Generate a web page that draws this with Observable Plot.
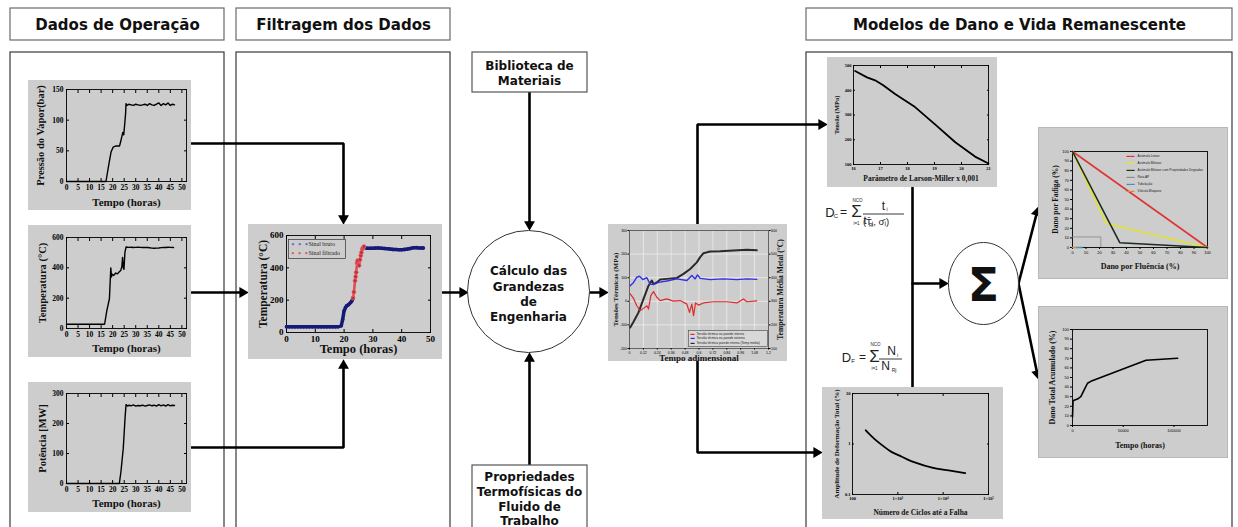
<!DOCTYPE html>
<html><head><meta charset="utf-8">
<script src="https://cdn.jsdelivr.net/npm/d3@7"></script>
<script src="https://cdn.jsdelivr.net/npm/@observablehq/plot@0.6"></script>
<style>
body{margin:0;background:#fff;}
#stage{position:relative;width:1238px;height:527px;overflow:hidden;background:#fff;}
#stage > svg{position:absolute;}
</style></head><body><div id="stage"></div>
<script>
// ================= DATA =================
// Dados de operação (tempo em horas)
const hoursTicks = [0,5,10,15,20,25,30,35,40,45,50];
const pressureTicks = [0,50,100,150];
const temperatureTicks = [0,200,400,600];
const powerTicks = [0,100,200,300];
const pressureSeries = [[0,0],[17.1,0],[18.4,29],[19.3,48],[20.2,56],[21.5,58],[23.0,58],[23.4,64],[23.9,72],[24.4,80],[24.8,76],[25.3,97],[25.6,110],[25.8,127],[26.2,124],[27,126],[28,125],[29,124],[30,126],[31,125],[32,124],[33,125],[34,126],[35,124],[36,127],[37,125],[38,124],[39,126],[40,128],[41,124],[42,127],[43,125],[44,128],[45,124],[46,126],[46.8,125]];
const temperatureSeries = [[0,28],[16.5,28],[17.5,120],[18.6,196],[19.2,400],[19.5,340],[19.8,358],[20.5,350],[21.3,366],[22.0,360],[22.8,372],[23.5,382],[24.0,410],[24.3,469],[24.6,400],[24.9,390],[25.3,500],[25.8,537],[27,535],[28,536],[29,534],[30,535],[31,536],[32,535],[33,534],[34,535],[35,534],[36,532],[37,530],[38,529],[39,530],[40,531],[41,533],[42,535],[43,534],[44,536],[45,535],[46.4,534]];
const powerSeries = [[0,0],[22.9,0],[23.6,40],[24.3,94],[24.6,117],[25.0,170],[25.4,222],[25.8,263],[26.5,258],[27,261],[28,259],[29,262],[30,258],[31,260],[32,259],[33,261],[34,258],[35,260],[36,262],[37,259],[38,261],[39,258],[40,263],[41,259],[42,262],[43,258],[44,263],[45,259],[46,261],[46.8,260]];

// Filtragem
const filterTicksX = [0,10,20,30,40,50];
const rawBefore = [[0,35],[1,35],[2,35],[3,35],[4,35],[5,35],[6,35],[7,35],[8,35],[9,35],[10,35],[11,35],[12,35],[13,35],[14,35],[15,35],[16,35],[17,35],[18,36],[19,41],[19.5,80],[20,134],[20.5,155],[20.9,165],[21.5,172],[22.3,186],[22.8,198],[23.1,213]];
const filteredSignal = [[23.1,213],[23.4,250],[23.8,320],[24.0,345],[24.2,372],[24.5,430],[24.7,445],[25.0,420],[25.2,414],[25.5,450],[25.8,476],[26.0,495],[26.3,517],[26.6,525],[26.9,532]];
const rawAfter = [[26.9,525],[28,521],[29,521],[30,521],[31,522],[32,522],[33,521],[34,520],[35,518],[36,516],[37,514],[38,513],[39,512],[40,512],[41,514],[42,516],[43,520],[44,524],[45,525],[46,523],[47,523],[47.5,523]];
const filterLegend = ["Sinal bruto","Sinal filtrado"];

// Grandezas de engenharia
const adimTicks = [0,0.12,0.24,0.36,0.48,0.6,0.72,0.84,0.96,1.08,1.2];
const stressTicks = [-200,-100,0,100,200,300];
const metalTempTicks = [100,200,300,400,500,600];
const metalTempOffset = 300; // right axis (°C) = left axis (MPa) + 300
const metalTemp = [[0.006,189],[0.035,213],[0.078,253],[0.121,310],[0.164,366],[0.193,388],[0.207,373],[0.236,380],[0.265,392],[0.322,395],[0.409,399],[0.466,416],[0.524,437],[0.581,465],[0.61,487],[0.639,504],[0.696,511],[0.783,512],[0.898,515],[1.013,518],[1.099,516]];
const stressOuter = [[0.006,66],[0.035,80],[0.063,102],[0.086,106],[0.115,92],[0.15,100],[0.178,73],[0.207,71],[0.25,80],[0.322,86],[0.409,95],[0.495,88],[0.538,109],[0.567,95],[0.587,112],[0.61,97],[0.696,92],[0.81,95],[0.927,92],[1.013,95],[1.099,93]];
const stressInner = [[0.006,31],[0.035,12],[0.063,-19],[0.092,-40],[0.121,-30],[0.15,-19],[0.164,-33],[0.184,24],[0.207,41],[0.236,17],[0.265,3],[0.322,10],[0.38,1],[0.437,3],[0.495,-12],[0.518,-47],[0.538,-12],[0.553,-61],[0.57,-7],[0.596,-16],[0.639,-7],[0.725,-2],[0.84,-2],[0.927,-7],[0.984,10],[1.013,-2],[1.099,2]];
const stressLegend = ["Tensão térmica na parede interna","Tensão térmica na parede externa","Tensão térmica parede interna (Temp média)"];

// Larson-Miller
const lmTicksX = [16,17,18,19,20,21];
const lmTicksY = [100,200,300,400,500];
const larsonMiller = [[16.06,478],[16.5,452],[16.8,440],[17.1,420],[17.54,385],[18.28,332],[19.02,262],[19.77,190],[20.5,132],[21.0,104]];

// Curva de fadiga
const cyclesTicks = [100,1000,10000,100000];
const cyclesLabels = ["100","1×10³","1×10⁴","1×10⁵"];
const strainTicks = [0.1,1,10];
const strainLife = [[196,1.87],[299,1.28],[455,0.94],[693,0.715],[1057,0.596],[1610,0.496],[2455,0.426],[5700,0.339],[13200,0.30],[30700,0.265]];

// Diagrama de interação fluência-fadiga
const pctTicks = [0,10,20,30,40,50,60,70,80,90,100];
const damageLinear = [[0,100],[100,0]];
const damageBilinear = [[0,100],[25,25],[100,0]];
const damageDegraded = [[0,100],[35,5],[100,0]];
const rotaAP = [[0,11],[21,11],[21,0]];
const tubulacao = [[2.5,0],[7,0]];
const valvula = [[0,0],[2.5,0]];
const damageLegend = ["Acúmulo Linear","Acúmulo Bilinear","Acúmulo Bilinear com Propriedades Degradas","Rota AP","Tubulação","Válvula Bloqueio"];
const damageColors = ["#e03434","#e4e42a","#1d2b1d","#8a8a8a","#3d92b4","#d2874e"];

// Dano acumulado
const longHoursTicks = [0,50000,100000];
const accumulated = [[0,9],[500,25],[1000,26],[4900,27.5],[8200,30],[11500,37],[14800,44],[18100,46],[72400,68],[103600,70]];

// ================= DIAGRAM LAYOUT =================
const headers = [
  {label:"Dados de Operação", x1:10, y1:8, x2:224, y2:40},
  {label:"Filtragem dos Dados", x1:236, y1:8, x2:450, y2:40},
  {label:"Modelos de Dano e Vida Remanescente", x1:806, y1:8, x2:1232, y2:40}
];
const columns = [
  {x1:10, y1:52, x2:224, y2:560},
  {x1:236, y1:52, x2:450, y2:560},
  {x1:806, y1:52, x2:1232, y2:560}
];
const infoBoxes = [
  {x1:472, y1:52, x2:587, y2:92},
  {x1:472, y1:465, x2:587, y2:560}
];
const boldLabels = [
  {x:529, y:66, text:"Biblioteca de", size:12},
  {x:529, y:81, text:"Materiais", size:12},
  {x:529, y:477, text:"Propriedades", size:12},
  {x:529, y:492, text:"Termofísicas do", size:12},
  {x:529, y:507, text:"Fluido de", size:12},
  {x:529, y:521, text:"Trabalho", size:12},
  {x:528, y:271, text:"Cálculo das", size:12},
  {x:528, y:287, text:"Grandezas", size:12},
  {x:528, y:302, text:"de", size:12},
  {x:528, y:317, text:"Engenharia", size:12},
  {x:983, y:286, text:"Σ", size:46}
];
const formulaLabels = [
  {x:829.5, y:212, text:"D", size:13, anchor:"middle"},
  {x:835.5, y:216, text:"C", size:6, anchor:"middle"},
  {x:843, y:212, text:"=", size:12, anchor:"middle"},
  {x:856, y:211, text:"Σ", size:17, anchor:"middle"},
  {x:857, y:200, text:"NCO", size:4.5, anchor:"middle"},
  {x:856, y:223, text:"i=1", size:4.5, anchor:"middle"},
  {x:883, y:206, text:"t", size:12, anchor:"middle"},
  {x:886.5, y:209, text:"i", size:5, anchor:"middle"},
  {x:864.5, y:220, text:"t", size:11, anchor:"middle"},
  {x:870.5, y:225.5, text:"Ri", size:4.5, anchor:"middle"},
  {x:875.5, y:221, text:"(T̄ᵢ, σ̄ᵢ)", size:9.5, anchor:"start"},
  {x:846, y:357, text:"D", size:13, anchor:"middle"},
  {x:852.5, y:361, text:"F", size:6, anchor:"middle"},
  {x:862, y:357, text:"=", size:12, anchor:"middle"},
  {x:874, y:356, text:"Σ", size:17, anchor:"middle"},
  {x:875, y:344, text:"NCO", size:4.5, anchor:"middle"},
  {x:874, y:368, text:"i=1", size:4.5, anchor:"middle"},
  {x:891, y:351, text:"N", size:12, anchor:"middle"},
  {x:897, y:354.5, text:"i", size:5, anchor:"middle"},
  {x:885, y:366, text:"N", size:12, anchor:"middle"},
  {x:893.5, y:369.5, text:"Rj", size:5, anchor:"middle"}
];
const fractionBars = [
  {x1:863, x2:904, y:213.5},
  {x1:879, x2:902, y:358.5}
];
const connectors = [
  {pts:[[191,143],[343,143],[343,224]], head:true},
  {pts:[[191,292],[248,292]], head:true},
  {pts:[[191,447],[343,447],[343,359]], head:true},
  {pts:[[442,292],[468,292]], head:true},
  {pts:[[529,92],[529,230]], head:true},
  {pts:[[529,465],[529,352]], head:true},
  {pts:[[588,292],[608,292]], head:true},
  {pts:[[697,224],[697,124],[827,124]], head:true},
  {pts:[[697,361],[697,452],[822,452]], head:true},
  {pts:[[912,187],[912,387]], head:false},
  {pts:[[912,283],[948,283]], head:true},
  {pts:[[1018,283],[1038,206]], head:true},
  {pts:[[1018,283],[1038,379]], head:true}
];
const calcNode = [{x:528, y:291}];
const sigmaNode = [{x:983, y:283}];

// ================= RENDER =================
const stage = document.getElementById("stage");
const W = 1238, H = 527;
const HEAD = 6;

const linePts = [], heads = [];
connectors.forEach((c, i) => {
  const p = c.pts.map(d => d.slice());
  if (c.head) {
    const [tx, ty] = p[p.length-1], [sx, sy] = p[p.length-2];
    const len = Math.hypot(tx-sx, ty-sy), ux = (tx-sx)/len, uy = (ty-sy)/len;
    heads.push({x: tx - HEAD*ux, y: ty - HEAD*uy, angle: Math.atan2(ux, -uy) * 180 / Math.PI});
    p[p.length-1] = [tx - 7*ux, ty - 7*uy];
  }
  p.forEach(q => linePts.push({id:i, x:q[0], y:q[1]}));
});

const ellipseSymbol = {draw(ctx) {
  const rx = 35, ry = 41, k = 0.5523;
  ctx.moveTo(rx, 0);
  ctx.bezierCurveTo(rx, ry*k, rx*k, ry, 0, ry);
  ctx.bezierCurveTo(-rx*k, ry, -rx, ry*k, -rx, 0);
  ctx.bezierCurveTo(-rx, -ry*k, -rx*k, -ry, 0, -ry);
  ctx.bezierCurveTo(rx*k, -ry, rx, -ry*k, rx, 0);
  ctx.closePath();
}};

const bg = Plot.plot({
  width: W, height: H, margin: 0,
  x: {domain: [0, W], range: [0, W], axis: null},
  y: {domain: [0, H], range: [0, H], axis: null},
  style: {background: "transparent", overflow: "visible"},
  marks: [
    Plot.rect(columns, {x1:"x1", x2:"x2", y1:"y1", y2:"y2", fill:"white", stroke:"#3a3a3a", strokeWidth:1.2}),
    Plot.rect(headers, {x1:"x1", x2:"x2", y1:"y1", y2:"y2", fill:"white", stroke:"#6a6a6a", strokeWidth:1.2}),
    Plot.text(headers, {x: d => (d.x1+d.x2)/2, y: d => (d.y1+d.y2)/2 + 1, text:"label", fontSize:15, fontWeight:"bold", fontFamily:"DejaVu Sans", fill:"#111"}),
    Plot.line(linePts, {x:"x", y:"y", z:"id", stroke:"black", strokeWidth:2.6, strokeLinejoin:"miter"}),
    Plot.dot(heads, {x:"x", y:"y", rotate:"angle", symbol:"triangle2", r:5.2, fill:"black", stroke:"none"}),
    Plot.rect(infoBoxes, {x1:"x1", x2:"x2", y1:"y1", y2:"y2", fill:"white", stroke:"#555", strokeWidth:1.2}),
    Plot.dot(calcNode, {x:"x", y:"y", r:61, fill:"white", stroke:"#333", strokeWidth:1}),
    Plot.dot(sigmaNode, {x:"x", y:"y", symbol: ellipseSymbol, r:30, fill:"white", stroke:"#333", strokeWidth:1}),
    Plot.text(boldLabels, {x:"x", y:"y", text:"text", fontSize: d => d.size, fontWeight:"bold", fontFamily:"DejaVu Sans", fill:"#111"}),
    Plot.text(formulaLabels, {x:"x", y:"y", text:"text", fontSize: d => d.size, textAnchor: d => d.anchor, fontFamily:"Liberation Sans", fill:"#222"}),
    Plot.ruleY(fractionBars, {x1:"x1", x2:"x2", y:"y", stroke:"#222", strokeWidth:0.9})
  ]
});
bg.style.left = "0px"; bg.style.top = "0px";
stage.appendChild(bg);

const GRAY = "#cdcdcd";
function addChart({left, top, width, height, ml, mr, mt, mb, x, y, marks, tickFont="Liberation Serif", tickSize=7, tickWeight="bold", border=null}) {
  const svg = Plot.plot({
    width, height, marginLeft: ml, marginRight: mr, marginTop: mt, marginBottom: mb, x, y,
    style: {background: GRAY, fontFamily: tickFont, fontSize: tickSize + "px", fontWeight: tickWeight, color: "black", overflow: "visible"},
    marks
  });
  svg.style.left = left + "px"; svg.style.top = top + "px";
  if (border) svg.style.outline = border;
  stage.appendChild(svg);
  return svg;
}
const serif = "Liberation Serif";
const xTitle = (t, dy, size) => Plot.text([t], {text: d => d, frameAnchor: "bottom", dy, fontSize: size, fontWeight: "bold", fontFamily: serif, fill:"#111", textAnchor:"middle", lineAnchor:"middle"});
const yTitle = (t, dx, size, anchor = "left") => Plot.text([t], {text: d => d, frameAnchor: anchor, dx, rotate: -90, fontSize: size, fontWeight: "bold", fontFamily: serif, fill:"#111", textAnchor:"middle", lineAnchor:"middle"});
const note = (t, anchor, dx, dy, size, fill, opts = {}) => Plot.text([t], {text: d => d, frameAnchor: anchor, dx, dy, fontSize: size, fill, textAnchor:"start", lineAnchor:"middle", ...opts});
function boxAxes(xt, yt, {xFmt = d => String(d), yFmt = d => String(d), ts = -3, pad = 6} = {}) {
  return [
    Plot.frame({stroke: "black", strokeWidth: 0.9}),
    Plot.axisX({ticks: xt, tickSize: ts, tickPadding: pad, label: null, tickFormat: xFmt}),
    Plot.axisX({anchor: "top", ticks: xt, tickSize: ts, label: null, tickFormat: () => ""}),
    Plot.axisY({ticks: yt, tickSize: ts, tickPadding: pad, label: null, tickFormat: yFmt}),
    Plot.axisY({anchor: "right", ticks: yt, tickSize: ts, label: null, tickFormat: () => ""})
  ];
}
const X = d => d[0], Y = d => d[1];

// --- Dados de operação ---
addChart({left:28, top:80, width:163, height:130, ml:38, mr:5, mt:9, mb:29,
  x:{domain:[0,52]}, y:{domain:[0,150]}, tickSize:7.5,
  marks:[...boxAxes(hoursTicks, pressureTicks),
    Plot.line(pressureSeries, {x:X, y:Y, stroke:"black", strokeWidth:1.4}),
    xTitle("Tempo (horas)", 21, 11), yTitle("Pressão do Vapor(bar)", -26, 10.5)]});
addChart({left:28, top:225, width:163, height:132, ml:38, mr:5, mt:12, mb:29,
  x:{domain:[0,52]}, y:{domain:[0,600]}, tickSize:7.5,
  marks:[...boxAxes(hoursTicks, temperatureTicks),
    Plot.line(temperatureSeries, {x:X, y:Y, stroke:"black", strokeWidth:1.4}),
    xTitle("Tempo (horas)", 20, 11), yTitle("Temperatura (°C)", -24, 10.5)]});
addChart({left:28, top:382, width:163, height:130, ml:38, mr:5, mt:11, mb:29,
  x:{domain:[0,52]}, y:{domain:[0,300]}, tickSize:7.5,
  marks:[...boxAxes(hoursTicks, powerTicks),
    Plot.line(powerSeries, {x:X, y:Y, stroke:"black", strokeWidth:1.4}),
    xTitle("Tempo (horas)", 20, 11), yTitle("Potência [MW]", -24, 10.5)]});

// --- Filtragem ---
const NAVY = "#151a78", PINK = "#e0484e";
addChart({left:248, top:224, width:194, height:135, ml:38, mr:12, mt:11, mb:27,
  x:{domain:[0,50]}, y:{domain:[0,600]}, tickSize:9,
  marks:[...boxAxes(filterTicksX, temperatureTicks),
    Plot.line(rawBefore, {x:X, y:Y, stroke:NAVY, strokeWidth:3.5}),
    Plot.line(rawAfter, {x:X, y:Y, stroke:NAVY, strokeWidth:3.5}),
    Plot.dot(rawBefore.concat(rawAfter), {x:X, y:Y, r:1.8, fill:NAVY}),
    Plot.line(filteredSignal, {x:X, y:Y, stroke:PINK, strokeWidth:2.5}),
    Plot.dot(filteredSignal, {x:X, y:Y, r:2, fill:"#c0303a", stroke:"#f07070", strokeWidth:0.6}),
    Plot.frame({insetLeft:2, insetTop:4, insetRight:85, insetBottom:74, stroke:"#333", strokeWidth:0.7}),
    note("•  •  •", "top-left", 5, 9, 8, "#6a6ad8"),
    note("•  •  •", "top-left", 5, 18, 8, "#e05a5a"),
    note(filterLegend[0], "top-left", 22, 8.5, 6, "#222", {fontWeight:"normal"}),
    note(filterLegend[1], "top-left", 22, 17.5, 6, "#222", {fontWeight:"normal"}),
    xTitle("Tempo (horas)", 16, 12.5), yTitle("Temperatura (°C)", -23, 11.5)]});

// --- Grandezas de engenharia (eixo duplo) ---
const toLeftAxis = T => T - metalTempOffset;
const stressColors = ["#e02a2a","#3030e8","#2a2a2a"];
addChart({left:608, top:224, width:179, height:137, ml:21, mr:19, mt:6, mb:13,
  x:{domain:[0,1.2]}, y:{domain:[-200,300]}, tickSize:3.5, tickFont:"Liberation Sans", tickWeight:"normal",
  marks:[
    Plot.gridX({ticks: adimTicks, stroke:"#ececec", strokeOpacity:1, strokeWidth:0.8}),
    Plot.gridY({ticks: stressTicks, stroke:"#ececec", strokeOpacity:1, strokeWidth:0.8}),
    Plot.frame({stroke:"#444", strokeWidth:0.8}),
    Plot.axisX({ticks: adimTicks, tickSize:1.5, tickPadding:1, label:null, tickFormat: d => String(d)}),
    Plot.axisY({ticks: stressTicks, tickSize:1.5, tickPadding:1, label:null, tickFormat: d => String(d)}),
    Plot.axisY({anchor:"right", ticks: metalTempTicks.map(toLeftAxis), tickSize:1.5, tickPadding:1, label:null, tickFormat: d => String(d + metalTempOffset)}),
    Plot.line(metalTemp, {x:X, y: d => toLeftAxis(d[1]), stroke:"#2a2a2a", strokeWidth:2}),
    Plot.line(stressOuter, {x:X, y:Y, stroke:"#3030e8", strokeWidth:1.4}),
    Plot.line(stressInner, {x:X, y:Y, stroke:"#e02a2a", strokeWidth:1.2}),
    Plot.frame({insetLeft:59, insetTop:100, insetRight:1, insetBottom:2, stroke:"#444", strokeWidth:0.6, fill:"#d8d8d8"}),
    ...stressLegend.map((t, i) => note("▬", "bottom-left", 61, [-15,-10.5,-6][i], 4, stressColors[i])),
    ...stressLegend.map((t, i) => note(t, "bottom-left", 67, [-15,-10.5,-6][i], 3.2, "#222")),
    xTitle("Tempo adimensional", 10, 9),
    yTitle("Tensões Térmicas (MPa)", -14, 7),
    yTitle("Temperatura Média Metal (°C)", 12, 7.5, "right")
  ]});

// --- Larson-Miller ---
addChart({left:827, top:57, width:170, height:130, ml:26, mr:9, mt:8, mb:23,
  x:{domain:[16,21]}, y:{domain:[100,500]}, tickSize:4.5,
  marks:[...boxAxes(lmTicksX, lmTicksY, {ts:-2, pad:4}),
    Plot.line(larsonMiller, {x:X, y:Y, stroke:"black", strokeWidth:1.8}),
    xTitle("Parâmetro de Larson-Miller x 0,001", 14, 7.5), yTitle("Tensão (MPa)", -17, 6.5)]});

// --- Curva deformação-vida ---
addChart({left:822, top:387, width:181, height:132, ml:30, mr:15, mt:6, mb:25,
  x:{type:"log", domain:[100,100000]}, y:{type:"log", domain:[0.1,10]}, tickSize:4.5,
  marks:[...boxAxes(cyclesTicks, strainTicks, {ts:-2, pad:4, xFmt: d => cyclesLabels[cyclesTicks.indexOf(d)]}),
    Plot.line(strainLife, {x:X, y:Y, stroke:"black", strokeWidth:1.8, curve:"monotone-x"}),
    xTitle("Número de Ciclos até a Falha", 18, 7.5), yTitle("Amplitude de Deformação Total (%)", -16, 7)]});

// --- Interação fluência-fadiga ---
function excelAxes(xt, yt, xFmt = d => String(d)) {
  return [
    Plot.frame({stroke:"black", strokeWidth:0.9}),
    Plot.axisX({ticks: xt, tickSize:2, tickPadding:1.5, label:null, tickFormat: xFmt}),
    Plot.axisY({ticks: yt, tickSize:2, tickPadding:1.5, label:null, tickFormat: d => String(d)})
  ];
}
addChart({left:1039, top:128, width:188, height:150, ml:33, mr:20, mt:23, mb:31,
  x:{domain:[0,100]}, y:{domain:[0,100]}, tickSize:4, tickFont:"Liberation Sans", tickWeight:"normal", border:"1px solid #b8b8b8",
  marks:[...excelAxes(pctTicks, pctTicks),
    Plot.line(rotaAP, {x:X, y:Y, stroke:damageColors[3], strokeWidth:0.9, strokeDasharray:"2,1"}),
    Plot.line(damageLinear, {x:X, y:Y, stroke:damageColors[0], strokeWidth:1.6}),
    Plot.line(damageBilinear, {x:X, y:Y, stroke:damageColors[1], strokeWidth:1.6}),
    Plot.line(damageDegraded, {x:X, y:Y, stroke:damageColors[2], strokeWidth:1.6}),
    Plot.line(tubulacao, {x:X, y:Y, stroke:damageColors[4], strokeWidth:1.6}),
    Plot.line(valvula, {x:X, y:Y, stroke:damageColors[5], strokeWidth:1.6}),
    ...damageLegend.map((t, i) => note("▬▬", "top-left", 54, 4 + i*7, 4, damageColors[i])),
    ...damageLegend.map((t, i) => note(t, "top-left", 65, 4 + i*7, 3.2, "#222")),
    xTitle("Dano por Fluência (%)", 19, 8), yTitle("Dano por Fadiga (%)", -17, 7.5)]});

// --- Dano acumulado ---
addChart({left:1039, top:307, width:188, height:150, ml:33, mr:20, mt:22, mb:32,
  x:{domain:[0,133000]}, y:{domain:[0,100]}, tickSize:4, tickFont:"Liberation Sans", tickWeight:"normal", border:"1px solid #b8b8b8",
  marks:[...excelAxes(longHoursTicks, pctTicks),
    Plot.line(accumulated, {x:X, y:Y, stroke:"black", strokeWidth:1.6}),
    xTitle("Tempo (horas)", 20, 8), yTitle("Dano Total Acumulado (%)", -20, 8)]});
</script></body></html>
